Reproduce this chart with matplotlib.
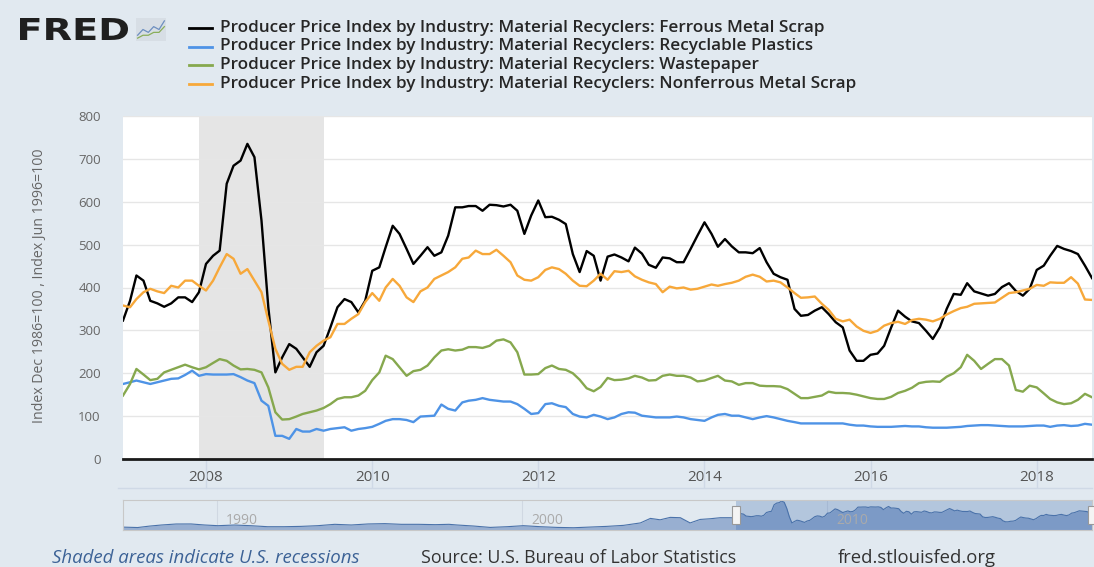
"""
FRED style chart: producer price indexes for material recyclers.
"""

import pandas as pd
import matplotlib
matplotlib.use("Agg")
import matplotlib.pyplot as plt
from matplotlib.lines import Line2D
from matplotlib.patches import Rectangle, PathPatch
from matplotlib.textpath import TextPath
from matplotlib.font_manager import FontProperties
from matplotlib.transforms import Affine2D

W, H = 1094, 567
BG = "#e1e9f0"

months = pd.date_range("2007-01-01", periods=141, freq="MS")

ferrous = [
    323, 369, 428, 416, 369, 363, 355, 363, 377, 377, 366, 389,
    455, 474, 486, 642, 684, 696, 735, 704, 556, 354, 202, 237,
    268, 257, 237, 215, 249, 264, 307, 354, 373, 366, 342, 369,
    439, 447, 494, 544, 525, 490, 455, 474, 494, 474, 482, 521,
    587, 587, 590, 590, 579, 593, 592, 589, 593, 579, 525, 568,
    603, 564, 565, 558, 548, 478, 436, 485, 474, 416, 472, 477,
    470, 461, 493, 479, 453, 446, 470, 468, 459, 459, 490, 521,
    552, 525, 495, 513, 496, 482, 482, 480, 492, 459, 432, 424,
    418, 350, 334, 336, 346, 354, 338, 319, 307, 253, 229, 229,
    243, 246, 264, 307, 346, 332, 321, 317, 299, 280, 307, 350,
    385, 383, 410, 391, 386, 381, 385, 401, 410, 392, 381, 397,
    441, 451, 474, 497, 490, 485, 478, 451, 422,
]
plastics = [
    175, 179, 183, 179, 175, 179, 183, 187, 188, 196, 206, 194,
    198, 197, 197, 197, 198, 191, 183, 177, 136, 124, 54, 54,
    47, 70, 64, 64, 70, 66, 70, 72, 74, 66, 70, 72,
    75, 82, 89, 93, 93, 91, 86, 99, 100, 101, 127, 117,
    113, 132, 136, 138, 142, 138, 136, 134, 134, 128, 117, 105,
    107, 128, 130, 124, 121, 105, 99, 97, 103, 99, 93, 97,
    105, 109, 108, 101, 99, 97, 97, 97, 99, 97, 93, 91,
    89, 97, 103, 105, 101, 101, 97, 93, 97, 100, 97, 93,
    89, 86, 83, 83, 83, 83, 83, 83, 83, 80, 78, 78,
    76, 75, 75, 75, 76, 77, 76, 76, 74, 73, 73, 73,
    74, 75, 77, 78, 79, 79, 78, 77, 76, 76, 76, 77,
    78, 78, 75, 78, 79, 77, 78, 82, 80,
]
wastepaper = [
    148, 175, 210, 197, 184, 187, 202, 208, 214, 220, 214, 209,
    214, 224, 233, 229, 218, 209, 210, 208, 202, 167, 109, 92,
    93, 99, 105, 109, 113, 119, 128, 140, 144, 144, 148, 159,
    184, 202, 241, 233, 214, 194, 205, 208, 218, 237, 253, 256,
    253, 255, 261, 261, 259, 264, 276, 279, 272, 249, 197, 197,
    198, 212, 218, 210, 208, 200, 185, 165, 158, 168, 189, 184,
    185, 188, 194, 190, 183, 184, 194, 197, 194, 194, 190, 181,
    183, 189, 194, 183, 181, 173, 177, 177, 171, 170, 170, 169,
    163, 152, 142, 142, 145, 148, 157, 154, 154, 153, 150, 146,
    142, 140, 140, 145, 154, 159, 166, 177, 180, 181, 180, 192,
    200, 214, 243, 229, 210, 222, 233, 233, 218, 161, 157, 171,
    167, 153, 140, 132, 128, 130, 138, 152, 144,
]
nonferrous = [
    358, 354, 373, 389, 397, 391, 387, 404, 400, 416, 416, 404,
    393, 416, 447, 478, 467, 432, 443, 416, 389, 323, 257, 222,
    208, 215, 215, 249, 264, 276, 284, 315, 315, 327, 338, 366,
    387, 369, 400, 420, 404, 377, 366, 391, 400, 420, 428, 436,
    447, 467, 470, 486, 478, 478, 488, 474, 459, 428, 418, 416,
    424, 441, 447, 443, 432, 416, 404, 403, 416, 432, 418, 438,
    436, 439, 426, 418, 412, 408, 389, 402, 398, 400, 395, 397,
    402, 407, 404, 408, 411, 416, 425, 430, 425, 414, 416, 412,
    400, 387, 376, 377, 379, 362, 348, 327, 321, 325, 309, 299,
    294, 299, 311, 317, 320, 315, 324, 327, 325, 321, 327, 337,
    345, 352, 355, 362, 363, 364, 365, 376, 387, 389, 393, 397,
    406, 404, 412, 411, 411, 424, 409, 372, 371,
]

series = [ferrous, plastics, wastepaper, nonferrous]
labels = [
    "Producer Price Index by Industry: Material Recyclers: Ferrous Metal Scrap",
    "Producer Price Index by Industry: Material Recyclers: Recyclable Plastics",
    "Producer Price Index by Industry: Material Recyclers: Wastepaper",
    "Producer Price Index by Industry: Material Recyclers: Nonferrous Metal Scrap",
]
colors = ["#000000", "#4e93e6", "#86a84e", "#f7a83a"]

recession = ("2007-12-01", "2009-06-01")
year_ticks = [2008, 2010, 2012, 2014, 2016, 2018]

# navigator: ferrous scrap before 2007 (decimal years)
nav_years = [
    1986.92, 1987.4, 1987.79, 1988.17, 1988.66, 1989.15, 1989.59, 1990.03,
    1990.57, 1991.1, 1991.66, 1992.2, 1992.75, 1993.3, 1993.86, 1994.4,
    1994.95, 1995.5, 1996.04, 1996.6, 1997.15, 1997.6, 1997.86, 1998.4,
    1998.95, 1999.5, 2000.04, 2000.6, 2001.14, 2001.68, 2002.23, 2002.77,
    2003.32, 2003.87, 2004.2, 2004.52, 2004.85, 2005.18, 2005.5, 2005.83,
    2006.16, 2006.49, 2006.82,
]
nav_values = [
    100, 90, 125, 151, 176, 177, 152, 135,
    151, 135, 110, 110, 118, 135, 168, 152,
    177, 185, 168, 168, 160, 168, 152, 127,
    93, 110, 135, 110, 93, 85, 101, 118,
    143, 202, 312, 278, 337, 329, 202, 287,
    304, 329, 329,
]
nav_ticks = [1990, 2000, 2010]

# little chart icon next to the logo
icon_x = [0, 1, 2, 3, 4, 5]
icon_blue = [1, 3, 2, 4, 3, 6]
icon_green = [0, 1, 1, 2, 2, 4]


def fx(px):
    return px / W


def fy(py):
    return 1 - py / H


plt.rcParams["font.family"] = ["Open Sans", "DejaVu Sans"]

fig = plt.figure(figsize=(W / 100, H / 100), dpi=100)
fig.patch.set_facecolor(BG)

# main plot
ax = fig.add_axes([fx(123), fy(459), (1092 - 123) / W, (459 - 116) / H])
ax.set_facecolor("white")
ax.axvspan(pd.Timestamp(recession[0]), pd.Timestamp(recession[1]),
           color="#e5e5e5", lw=0, zorder=0)
for vals, col in zip(series, colors):
    ax.plot(months, vals, color=col, lw=1.7, zorder=3)

ax.set_xlim(months[0], months[-1])
ax.set_ylim(0, 800)
ax.set_yticks(range(0, 900, 100))
ax.yaxis.grid(True, color="#e6e6e6", lw=1, zorder=1)
ax.set_axisbelow(True)
for side in ["top", "right", "left"]:
    ax.spines[side].set_visible(False)
ax.spines["bottom"].set_color("#1a1a1a")
ax.spines["bottom"].set_linewidth(2)
ax.spines["bottom"].set_zorder(4)

tick_dates = [pd.Timestamp(f"{y}-01-01") for y in year_ticks]
ax.set_xticks(tick_dates)
ax.set_xticklabels([str(y) for y in year_ticks])
ax.tick_params(axis="x", length=0, pad=8, labelsize=11, labelcolor="#555555")
ax.tick_params(axis="y", length=0, pad=16, labelsize=9.5, labelcolor="#666666")
ax.vlines(tick_dates, -29 / 343, 0, transform=ax.get_xaxis_transform(),
          color="#cfd9e6", lw=1, clip_on=False)

fig.text(fx(40), fy(286), "Index Dec 1986=100 , Index Jun 1996=100",
         rotation=90, ha="center", va="center", fontsize=10.2, color="#666666")

fig.add_artist(Line2D([fx(118), fx(1092)], [fy(488), fy(488)],
                      color="#cfd9e6", lw=1))

# navigator
nav = fig.add_axes([fx(123), fy(530), (1092 - 123) / W, 30 / H])
nav.set_facecolor(BG)
nav_x = nav_years + [2007 + i / 12 for i in range(len(ferrous))]
nav_y = nav_values + ferrous
nav.fill_between(nav_x, 30, nav_y, color="#98afd1", lw=0)
nav.plot(nav_x, nav_y, color="#4a72aa", lw=0.8)
nav.axvspan(2007, nav_x[-1], color="#2a5ea8", alpha=0.25, lw=0)
for t in nav_ticks:
    nav.axvline(t, color="#d0d8e2", lw=0.8, zorder=0)
    nav.text(t + 0.3, 0.3, str(t), transform=nav.get_xaxis_transform(),
             fontsize=10, color="#aaaaaa", va="center")
nav.set_xlim(1986.92, nav_x[-1])
nav.set_ylim(30, 760)
nav.set_xticks([])
nav.set_yticks([])
for s in nav.spines.values():
    s.set_color("#c8c8c8")
    s.set_linewidth(0.8)
for t in [2007, nav_x[-1]]:
    nav.add_patch(Rectangle((t - 0.13, 0.2), 0.26, 0.6,
                            transform=nav.get_xaxis_transform(),
                            facecolor="#f4f4f4", edgecolor="#999999",
                            lw=0.8, clip_on=False, zorder=5))

# header: logo stretched into its box (pixels: x 20-128, y 18-40)
logo = TextPath((0, 0), "FRED", size=30,
                prop=FontProperties(family="DejaVu Sans", weight="bold"))
ext = logo.get_extents()
sx = (128 - 20) / ext.width
sy = (40 - 18) / ext.height
logo_tr = Affine2D().translate(-ext.x0, -ext.y0).scale(sx, sy).translate(20, H - 40)
fig.add_artist(PathPatch(logo, transform=logo_tr, facecolor="#1f1f1f", lw=0))

icon = fig.add_axes([fx(136), fy(41), 30 / W, 23 / H])
icon.set_facecolor("#d7dee5")
icon.plot(icon_x, icon_blue, color="#6d8fc0", lw=0.9)
icon.plot(icon_x, icon_green, color="#8aae5a", lw=0.9)
icon.set_xlim(-0.3, 5.3)
icon.set_ylim(-1, 7)
icon.set_xticks([])
icon.set_yticks([])
for s in icon.spines.values():
    s.set_visible(False)

row_y = [28, 46.5, 65, 83.5]
for lab, col, yy in zip(labels, colors, row_y):
    fig.add_artist(Line2D([fx(189), fx(212)], [fy(yy), fy(yy)], color=col, lw=2))
    fig.text(fx(220), fy(yy), lab, fontsize=12.3, fontweight="semibold",
             color="#262626", va="center")

# footer
fig.text(fx(52), fy(558), "Shaded areas indicate U.S. recessions",
         fontsize=13.4, style="italic", color="#3c6296", va="center")
fig.text(fx(421), fy(558), "Source: U.S. Bureau of Labor Statistics",
         fontsize=12.8, color="#333333", va="center")
fig.text(fx(838), fy(558), "fred.stlouisfed.org",
         fontsize=13.3, color="#333333", va="center")

fig.savefig("out.png", dpi=100, facecolor=BG)
